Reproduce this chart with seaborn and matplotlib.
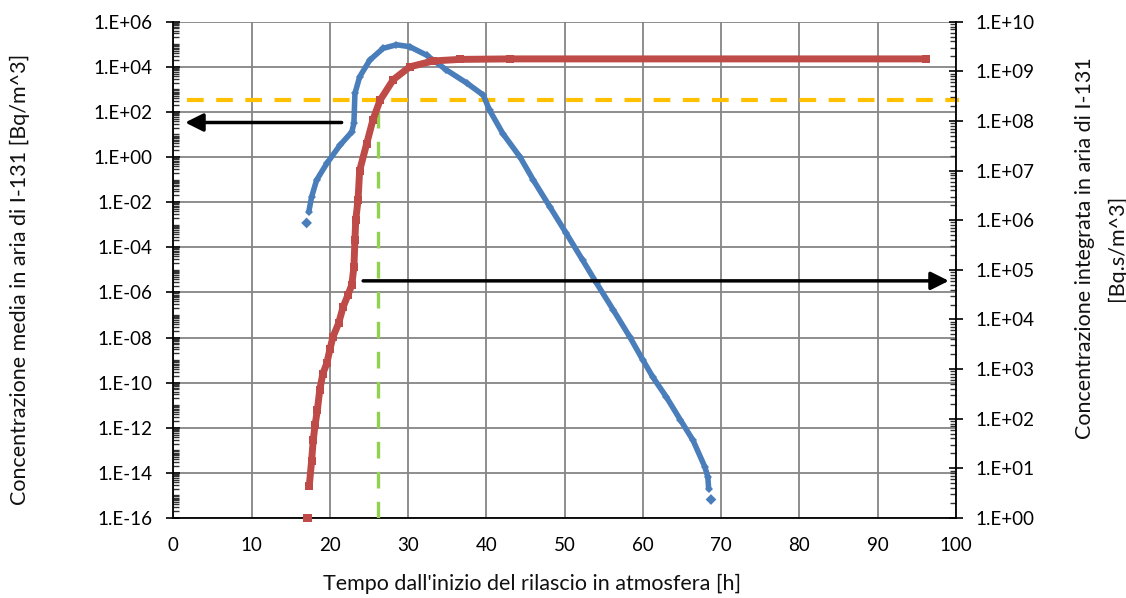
import numpy as np
import matplotlib
matplotlib.use("Agg")
import matplotlib.pyplot as plt
from matplotlib.ticker import FixedLocator, MultipleLocator, FuncFormatter, NullFormatter
import seaborn as sns

# blue series: concentrazione media (left axis)
conc_t = [17.3, 17.66, 18.3, 19.6, 21.3, 22.8, 23.07, 23.2, 23.8, 25.1, 26.8,
          28.5, 30.2, 32.35, 34.9, 37.5, 39.6, 40.4, 42.1, 44.3, 46.0, 48.1,
          50.2, 52.3, 54.1, 56.2, 58.3, 60.0, 61.3, 63.0, 64.8, 66.4, 67.9,
          68.3, 68.4]
conc_val = [3.7e-3, 1.7e-2, 9.5e-2, 0.52, 3.4, 13, 32, 660, 3600, 2.0e4, 6.6e4,
            9.5e4, 7.8e4, 3.3e4, 7.2e3, 1.9e3, 5.6e2, 1.2e2, 11, 1.0, 9.5e-2,
            6.3e-3, 4.2e-4, 2.7e-5, 2.5e-6, 1.7e-7, 1.1e-8, 1.0e-9, 1.7e-10,
            2.3e-11, 2.2e-12, 2.8e-13, 1.9e-14, 6.6e-15, 2.0e-15]
conc_iso_t = [17.02, 68.7]
conc_iso_val = [1.2e-3, 6.6e-16]

# red series: concentrazione integrata (right axis)
integ_t = [17.36, 17.66, 17.87, 18.1, 18.4, 18.7, 19.1, 19.6, 20.0, 20.4, 21.1,
           21.7, 22.3, 22.8, 23.07, 23.2, 23.3, 23.6, 23.8, 24.7, 25.5, 26.4,
           28.1, 30.2, 33.2, 36.6, 43.0, 96.2]
integ_val = [4.4, 14, 37, 74, 150, 380, 810, 1300, 2500, 4500, 8300, 1.8e4,
             3.1e4, 5.0e4, 1.15e5, 4.0e5, 1.0e6, 2.6e6, 1.0e7, 3.5e7, 1.05e8,
             2.6e8, 6.8e8, 1.23e9, 1.62e9, 1.74e9, 1.78e9, 1.78e9]
integ_iso_t = [17.1]
integ_iso_val = [1.0]

# reference lines / arrows
soglia_conc = 3.27e2      # orange dashed, left axis units
t_soglia = 26.17          # green dashed vertical
arrow_left = (21.5, 1.5, 34.0)      # x tail, x tip, y (left axis)
arrow_right = (24.25, 99.1, 6.0e4)  # x tail, x tip, y (right axis)

sns.set_theme(style="white")
plt.rcParams['font.family'] = ['Lato', 'DejaVu Sans']

fig = plt.figure(figsize=(11.26, 5.98), dpi=100)
ax = fig.add_axes([173.4 / 1126, 1 - 518 / 598, (955.9 - 173.4) / 1126, (518 - 21.7) / 598])
ax2 = ax.twinx()

blue = '#4A7EBB'
red = '#BE4B48'

sns.lineplot(x=conc_t, y=conc_val, ax=ax, color=blue, lw=4, marker='D',
             markersize=4.5, markeredgewidth=0, zorder=5)
sns.scatterplot(x=conc_iso_t, y=conc_iso_val, ax=ax, color=blue, marker='D',
                s=30, edgecolor='none', zorder=5, clip_on=False)

ax.plot([1.7, 100.35], [soglia_conc, soglia_conc], color='#FFC000', lw=3,
        dashes=(4, 3), zorder=3, clip_on=False)
ax.plot([t_soglia, t_soglia], [1e-16, 1.5e2], color='#92D050', lw=2.4,
        dashes=(5, 4), zorder=3)

sns.lineplot(x=integ_t, y=integ_val, ax=ax2, color=red, lw=5, marker='s',
             markersize=6, markeredgewidth=0, zorder=5)
sns.scatterplot(x=integ_iso_t, y=integ_iso_val, ax=ax2, color=red, marker='s',
                s=40, edgecolor='none', zorder=5, clip_on=False)

arrow_kw = dict(arrowstyle='-|>', color='black', lw=2.5, mutation_scale=27,
                shrinkA=0, shrinkB=0)
ax.annotate('', xy=(arrow_left[1], arrow_left[2]), xytext=(arrow_left[0], arrow_left[2]),
            arrowprops=arrow_kw, zorder=6)
ax2.annotate('', xy=(arrow_right[1], arrow_right[2]), xytext=(arrow_right[0], arrow_right[2]),
             arrowprops=arrow_kw, zorder=6)

ax.set_xlim(0, 100)
ax.set_yscale('log')
ax.set_ylim(1e-16, 1e6)
ax2.set_yscale('log')
ax2.set_ylim(1e0, 1e10)

fmt = FuncFormatter(lambda v, p: f"1.E{int(round(np.log10(v))):+03d}")

ax.xaxis.set_major_locator(MultipleLocator(10))
ax.xaxis.set_minor_locator(MultipleLocator(1))
ax.yaxis.set_major_locator(FixedLocator(10.0 ** np.arange(-16, 7, 2)))
ax.yaxis.set_minor_locator(FixedLocator(
    [m * 10.0 ** e for e in range(-16, 6) for m in range(1, 10) if not (m == 1 and e % 2 == 0)]))
ax.yaxis.set_major_formatter(fmt)
ax.yaxis.set_minor_formatter(NullFormatter())

ax2.yaxis.set_major_locator(FixedLocator(10.0 ** np.arange(0, 11)))
ax2.yaxis.set_minor_locator(FixedLocator(
    [m * 10.0 ** e for e in range(0, 10) for m in range(2, 10)]))
ax2.yaxis.set_major_formatter(fmt)
ax2.yaxis.set_minor_formatter(NullFormatter())

ax.tick_params(axis='both', which='major', direction='inout', length=10, width=1.2,
               color='black', labelsize=13.5, labelcolor='black')
ax.tick_params(axis='both', which='minor', direction='in', length=4, width=1, color='#333333')
ax.tick_params(axis='x', which='major', pad=8.5)
ax.tick_params(axis='y', which='major', pad=10)
ax2.tick_params(axis='y', which='major', direction='inout', length=10, width=1.2,
                color='black', labelsize=13.5, labelcolor='black', pad=9)
ax2.tick_params(axis='y', which='minor', direction='in', length=4, width=1, color='#333333')

ax.grid(True, which='major', color='#858585', lw=1.3)
ax.set_axisbelow(True)
ax2.grid(False)

for a in (ax, ax2):
    a.spines['top'].set_visible(False)
    for s in ('left', 'bottom', 'right'):
        a.spines[s].set_color('black')
        a.spines[s].set_linewidth(1.3)
ax.spines['right'].set_visible(False)
ax2.spines['left'].set_visible(False)
ax2.spines['bottom'].set_visible(False)

lab = dict(fontsize=15.5, color='#111111', ha='center', va='center')
fig.text(20 / 1126, 1 - 279 / 598, "Concentrazione media in aria di I-131 [Bq/m^3]",
         rotation=90, **lab)
fig.text(1085 / 1126, 1 - 248 / 598, "Concentrazione integrata in aria di I-131",
         rotation=90, **lab)
fig.text(1117 / 1126, 1 - 248 / 598, "[Bq.s/m^3]", rotation=90, **lab)
fig.text(532 / 1126, 1 - 584 / 598, "Tempo dall'inizio del rilascio in atmosfera [h]", **lab)

fig.savefig("out.png", dpi=100, facecolor='white')
